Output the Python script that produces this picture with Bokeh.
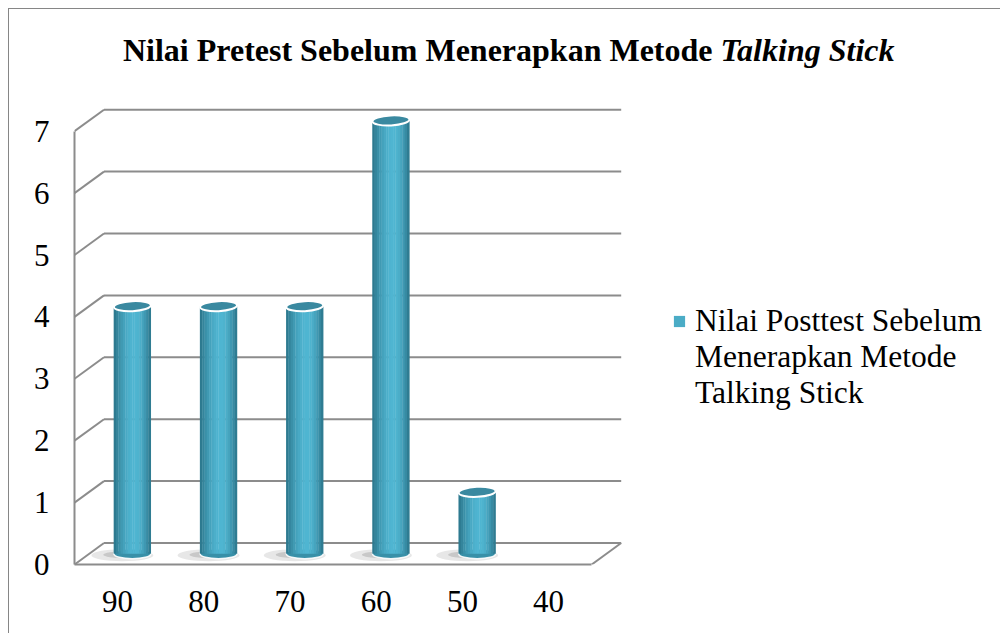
import math
from bokeh.plotting import figure
from bokeh.models import Range1d, FixedTicker, Label, Legend, LegendItem
from bokeh.embed import file_html
from bokeh.resources import INLINE

# ---------------- data ----------------
title_main = "Nilai Pretest Sebelum Menerapkan Metode"
title_italic = "Talking Stick"
categories = ["90", "80", "70", "60", "50", "40"]
values = [4, 4, 4, 7, 1, 0]
y_ticks = [0, 1, 2, 3, 4, 5, 6, 7]
series_name_lines = ["Nilai Posttest Sebelum", "Menerapkan Metode", "Talking Stick"]

# ---------------- layout constants (pixels, canvas coords) ----------------
OFF = 9                                # canvas origin on the page (margin + border)
W, H = 1001 - OFF, 634 - OFF
FL, FB = 74 - OFF, 564 - OFF           # frame left / bottom (front axes)
XS, YS = 86.2, 61.9                    # px per category / px per unit
X0 = -0.5
X_END = X0 + (W - FL) / XS
Y_END = FB / YS
DX, DY = 29.5 / XS, 21.5 / YS          # depth offset of the back wall
BW = 37 / XS                           # cylinder width
FONT = "Liberation Serif"
GRID = "#8c8c8c"


def cx(page_x):
    return X0 + (page_x - OFF - FL) / XS


def cy(page_y):
    return (FB - (page_y - OFF)) / YS


p = figure(width=W, height=H, output_backend="svg", toolbar_location=None,
           x_range=Range1d(X0, X_END), y_range=Range1d(0, Y_END),
           min_border_left=FL, min_border_top=0,
           min_border_right=0, min_border_bottom=H - FB,
           background_fill_color="white", border_fill_color="white")
p.outline_line_color = None
p.xgrid.visible = False
p.ygrid.visible = False
p.styles = {"margin-left": "8px", "margin-top": "8px",
            "border-left": "1px solid #868686", "border-top": "1px solid #868686"}

# ---------------- axes ----------------
n = len(categories)
p.yaxis.ticker = FixedTicker(ticks=y_ticks)
p.yaxis.bounds = (y_ticks[0], y_ticks[-1])
p.yaxis.axis_line_color = GRID
p.yaxis.axis_line_width = 2
p.yaxis.major_tick_line_color = None
p.yaxis.minor_tick_line_color = None
p.yaxis.major_label_text_font = FONT
p.yaxis.major_label_text_font_size = "31px"
p.yaxis.major_label_text_color = "black"
p.yaxis.major_label_standoff = 19

p.xaxis.ticker = FixedTicker(ticks=list(range(n)))
p.xaxis.major_label_overrides = {i: c for i, c in enumerate(categories)}
p.xaxis.bounds = (-0.5, n - 0.5)
p.xaxis.axis_line_color = GRID
p.xaxis.axis_line_width = 2
p.xaxis.major_tick_line_color = None
p.xaxis.minor_tick_line_color = None
p.xaxis.major_label_text_font = FONT
p.xaxis.major_label_text_font_size = "31px"
p.xaxis.major_label_text_color = "black"
p.xaxis.major_label_standoff = 20

# ---------------- 3D walls ----------------
p.segment(x0=[-0.5 + DX] * len(y_ticks), y0=[v + DY for v in y_ticks],
          x1=[n - 0.5 + DX] * len(y_ticks), y1=[v + DY for v in y_ticks],
          line_color=GRID, line_width=2)
p.segment(x0=[-0.5] * len(y_ticks), y0=list(y_ticks),
          x1=[-0.5 + DX] * len(y_ticks), y1=[v + DY for v in y_ticks],
          line_color=GRID, line_width=2)
p.segment(x0=[n - 0.5], y0=[0], x1=[n - 0.5 + DX], y1=[DY],
          line_color=GRID, line_width=2)

# ---------------- cylinders ----------------
dark = (0x22, 0x65, 0x79)
light = (0x50, 0xb6, 0xd2)


def shade(t):
    peak = 0.15
    u = (t - peak) / (1 + peak) if t < peak else (t - peak) / (1 - peak)
    b = max(0.0, math.cos(u * math.pi / 2 * 0.88))
    r, g, bl = (int(dark[k] + (light[k] - dark[k]) * b) for k in range(3))
    return "#%02x%02x%02x" % (r, g, bl)


NS = 16
sx, stop, sbot, scol = [], [], [], []
ex, etop, ebot = [], [], []
for i, v in enumerate(values):
    if v <= 0:
        continue
    xc = i + DX / 2
    ex.append(xc)
    etop.append(v + DY / 2)
    ebot.append(DY / 2)
    for k in range(NS):
        t = -1 + (2 * k + 1) / NS
        sx.append(xc + t * BW / 2)
        stop.append(v + DY / 2)
        sbot.append(DY / 2)
        scol.append(shade(t))

p.ellipse(x=[x - 10 / XS for x in ex], y=[b - 1.5 / YS for b in ebot],
          width=62, height=12, width_units="screen", height_units="screen",
          fill_color="#7a7a7a", fill_alpha=0.18, line_color=None)
p.ellipse(x=[x - 6 / XS for x in ex], y=[b - 1 / YS for b in ebot],
          width=46, height=7, width_units="screen", height_units="screen",
          fill_color="#6a6a6a", fill_alpha=0.25, line_color=None)
p.ellipse(x=ex, y=ebot, width=BW, height=10, height_units="screen",
          fill_color="#3890a8", line_color="white", line_width=1.5, line_alpha=0.9)
p.vbar(x=sx, top=stop, bottom=sbot, width=BW / NS * 1.15,
       fill_color=scol, line_color=None)
p.ellipse(x=ex, y=etop, width=BW, height=10, height_units="screen", angle=0.05,
          fill_color="#3a89a0", line_color="white", line_width=2)

# ---------------- legend ----------------
# proxy renderers (kept outside the visible range) that supply the legend swatches
legend_r = p.vbar(x=[X0 - 5], top=[1], width=0.4, fill_color="#4bacc6", line_color=None)
blank_r = p.vbar(x=[X0 - 5], top=[1], width=0.4, fill_alpha=0, line_alpha=0)
items = [LegendItem(label=series_name_lines[0], renderers=[legend_r])]
items += [LegendItem(label=s, renderers=[blank_r]) for s in series_name_lines[1:]]
legend = Legend(items=items,
                location=(672 - 74, 564 - 411), margin=0, padding=0, spacing=0,
                glyph_width=14, glyph_height=14, label_standoff=9,
                label_text_font=FONT, label_text_font_size="31.5px",
                label_text_color="black",
                background_fill_alpha=0, border_line_color=None)
p.add_layout(legend, "center")

# ---------------- title ----------------
ty = cy(49)
p.add_layout(Label(x=cx(712), y=ty, text=title_main, text_font=FONT,
                   text_font_style="bold", text_font_size="32px",
                   text_align="right", text_baseline="alphabetic",
                   text_color="black"))
p.add_layout(Label(x=cx(720), y=ty, text=title_italic, text_font=FONT,
                   text_font_style="bold italic", text_font_size="32px",
                   text_align="left", text_baseline="alphabetic",
                   text_color="black"))

open("out.html", "w").write(file_html(p, INLINE))
